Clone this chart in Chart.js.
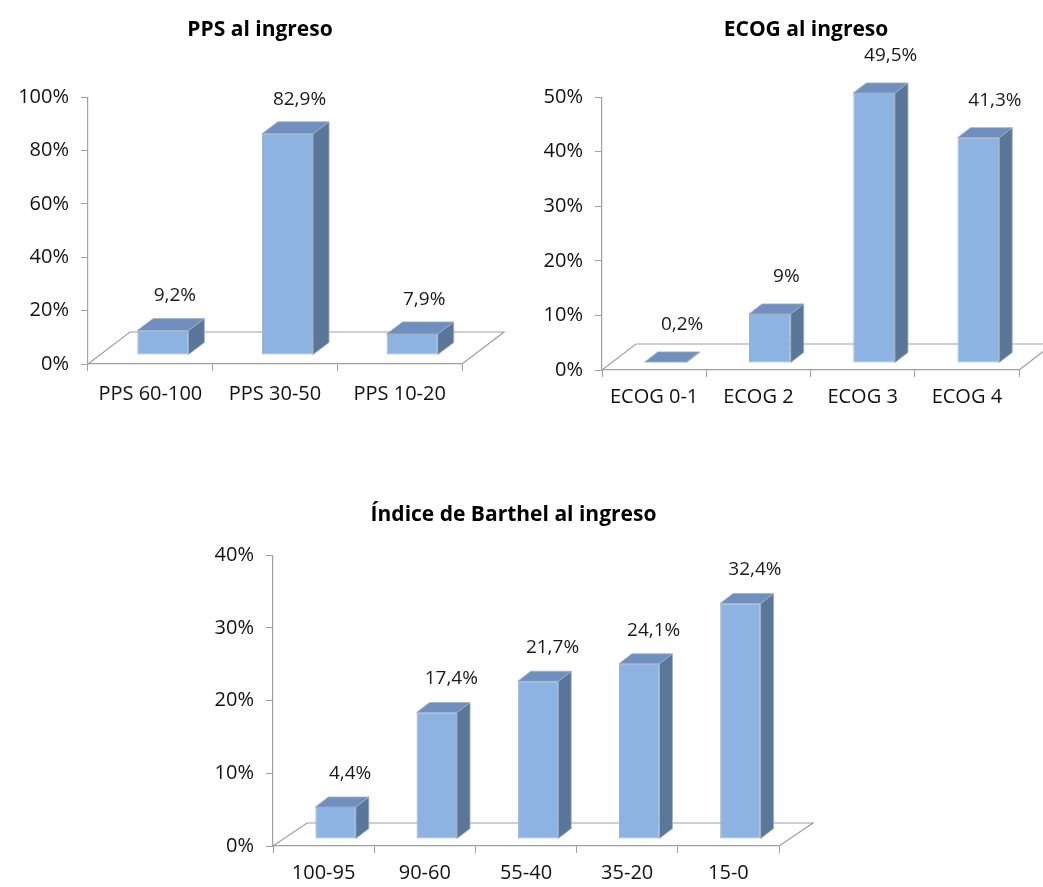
<!DOCTYPE html>
<html>
<head>
<meta charset="utf-8">
<script src="https://cdn.jsdelivr.net/npm/chart.js@4.4.1/dist/chart.umd.min.js"></script>
<style>
  body { margin: 0; background: #fff; width: 1043px; height: 887px; position: relative; overflow: hidden; }
  .box { position: absolute; }
</style>
</head>
<body>
<div class="box" style="left:0;top:0;width:520px;height:420px"><canvas id="ppsChart"></canvas></div>
<div class="box" style="left:537px;top:0;width:538px;height:420px"><canvas id="ecogChart"></canvas></div>
<div class="box" style="left:0;top:470px;width:1043px;height:417px"><canvas id="barthelChart"></canvas></div>
<script>
// Data
const ppsLabels = ["PPS 60-100", "PPS 30-50", "PPS 10-20"];
const ppsValues = [9.2, 82.9, 7.9];

const ecogLabels = ["ECOG 0-1", "ECOG 2", "ECOG 3", "ECOG 4"];
const ecogValues = [0.2, 9, 49.5, 41.3];

const barthelLabels = ["100-95", "90-60", "55-40", "35-20", "15-0"];
const barthelValues = [4.4, 17.4, 21.7, 24.1, 32.4];

const FONT = "'Open Sans', Lato, sans-serif";
const AXIS = "#a0a0a0";
const FRONT = "#8db3e2";
const TOP = "#6f8fbf";
const SIDE = "#5a7799";
const EDGE = "#9eb0c6";

function fmt(v) {
  return String(v).replace(".", ",") + "%";
}

function face(ctx, pts, fill) {
  ctx.beginPath();
  ctx.moveTo(pts[0][0], pts[0][1]);
  for (let i = 1; i < pts.length; i++) ctx.lineTo(pts[i][0], pts[i][1]);
  ctx.closePath();
  ctx.fillStyle = fill;
  ctx.fill();
  ctx.strokeStyle = EDGE;
  ctx.lineWidth = 0.8;
  ctx.stroke();
}

// draws the floor, shifts the bars back into it and adds side/top faces + value labels
const bars3d = {
  id: "bars3d",
  beforeDatasetsDraw(chart, args, o) {
    const ctx = chart.ctx, a = chart.chartArea;
    ctx.save();
    ctx.strokeStyle = AXIS;
    ctx.lineWidth = 1.2;
    ctx.beginPath();
    ctx.moveTo(a.left, a.bottom);
    ctx.lineTo(a.left + o.floorX, a.bottom + o.floorY);
    ctx.lineTo(a.right + o.floorX, a.bottom + o.floorY);
    ctx.lineTo(a.right, a.bottom);
    ctx.stroke();
    ctx.restore();
    ctx.save();
    ctx.translate(o.shiftX, o.shiftY);
  },
  afterDatasetsDraw(chart, args, o) {
    const ctx = chart.ctx;
    const bars = chart.getDatasetMeta(0).data;
    bars.forEach(bar => {
      const l = bar.x - bar.width / 2, r = bar.x + bar.width / 2;
      const t = bar.y, b = bar.base;
      face(ctx, [[r, t], [r + o.sideX, t + o.sideY], [r + o.sideX, b + o.sideY], [r, b]], SIDE);
      face(ctx, [[l, t], [l + o.sideX, t + o.sideY], [r + o.sideX, t + o.sideY], [r, t]], TOP);
    });
    ctx.restore();

    const values = chart.data.datasets[0].data;
    ctx.save();
    ctx.font = "19px " + FONT;
    ctx.fillStyle = "#1a1a1a";
    ctx.textAlign = "center";
    ctx.textBaseline = "bottom";
    bars.forEach((bar, i) => {
      const x = bar.x + o.shiftX + o.sideX / 2 + o.labelX;
      const y = bar.y + o.shiftY + o.sideY - o.labelGap;
      ctx.fillText(fmt(values[i]), x, y);
    });
    ctx.restore();
  }
};

function build(id, labels, values, s) {
  const tickFont = { family: FONT, size: 20 };
  return new Chart(document.getElementById(id), {
    type: "bar",
    data: {
      labels: labels,
      datasets: [{
        data: values,
        backgroundColor: FRONT,
        borderColor: EDGE,
        borderWidth: 1,
        borderSkipped: false,
        barPercentage: s.barPct,
        categoryPercentage: 1,
        yAxisID: "y"
      }]
    },
    options: {
      responsive: true,
      maintainAspectRatio: false,
      animation: false,
      layout: { padding: { left: 0, right: s.padR || 0 } },
      plugins: {
        legend: { display: false },
        tooltip: { enabled: false },
        title: {
          display: true,
          text: s.title,
          color: "#000",
          font: { family: FONT, size: 21, weight: "bold", lineHeight: 1.2 },
          padding: { top: s.titleTop, bottom: s.titleBottom }
        },
        bars3d: s.depth
      },
      scales: {
        x: {
          grid: { drawOnChartArea: false, tickLength: 7, color: AXIS },
          border: { color: AXIS, width: 1.2 },
          ticks: { font: tickFont, color: "#111", padding: s.xPad, maxRotation: 0 },
          afterFit: sc => { sc.height = s.xHeight; }
        },
        y: {
          min: 0,
          max: s.max,
          ticks: { stepSize: s.step, callback: v => v + "%", font: tickFont, color: "#111", padding: 12 },
          grid: { drawOnChartArea: false, tickLength: 7, color: AXIS },
          border: { color: AXIS, width: 1.2 },
          afterFit: sc => { sc.width = s.yWidth; }
        },
        pad: {
          type: "linear",
          position: "right",
          ticks: { display: false },
          grid: { display: false },
          border: { display: false },
          afterFit: sc => { sc.width = s.padRight; }
        }
      }
    },
    plugins: [bars3d]
  });
}

build("ppsChart", ppsLabels, ppsValues, {
  title: "PPS al ingreso", titleTop: 17, titleBottom: 55,
  max: 100, step: 20, barPct: 0.41,
  yWidth: 88, padRight: 58, xHeight: 56, xPad: 11,
  depth: { floorX: 42, floorY: -32, shiftX: 12.5, shiftY: -9, sideX: 16, sideY: -12, labelX: 4, labelGap: 13 }
});

build("ecogChart", ecogLabels, ecogValues, {
  title: "ECOG al ingreso", titleTop: 17, titleBottom: 55,
  max: 50, step: 10, barPct: 0.40,
  yWidth: 65, padRight: 56, xHeight: 50, xPad: 8,
  depth: { floorX: 34, floorY: -26, shiftX: 11.5, shiftY: -7, sideX: 13, sideY: -10, labelX: 10, labelGap: 18 }
});

build("barthelChart", barthelLabels, barthelValues, {
  title: "Índice de Barthel al ingreso", titleTop: 32, titleBottom: 28,
  max: 40, step: 10, barPct: 0.40, padR: 16,
  yWidth: 273, padRight: 248, xHeight: 41, xPad: 8,
  depth: { floorX: 34, floorY: -23, shiftX: 12, shiftY: -7, sideX: 13, sideY: -10, labelX: 8, labelGap: 14 }
});
</script>
</body>
</html>
